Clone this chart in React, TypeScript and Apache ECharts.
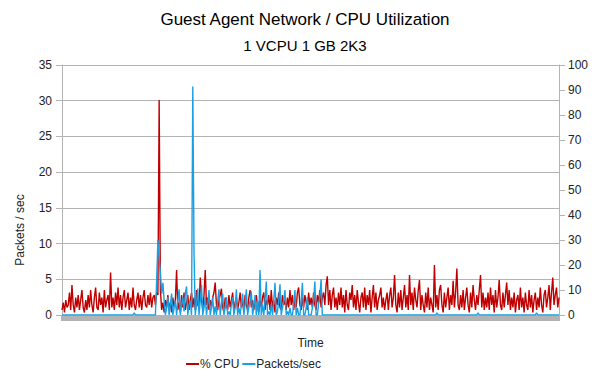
import React, { useEffect, useRef } from "react";
import * as echarts from "echarts";

const TITLE = "Guest Agent Network / CPU Utilization";
const SUBTITLE = "1 VCPU 1 GB 2K3";
const LEFT_NAME = "Packets / sec";
const X_NAME = "Time";
const SERIES_NAMES = ["% CPU", "Packets/sec"];

// % CPU (right axis, 0-100)
const cpu: number[] = [
  2, 5, 1, 6, 3, 4, 9, 2, 12, 4, 1, 7, 3, 8, 2, 6, 10, 3, 1, 6,
  2, 8, 3, 10, 4, 1, 7, 11, 3, 2, 9, 4, 7, 1, 10, 3, 6, 8, 2, 17,
  3, 7, 2, 9, 4, 11, 3, 8, 2, 7, 10, 3, 6, 9, 2, 7, 3, 11, 4, 2,
  6, 9, 3, 8, 2, 7, 10, 4, 3, 8, 4, 9, 3, 7, 8, 4, 9, 8, 86, 10,
  2, 5, 1, 6, 3, 8, 2, 5, 1, 7, 3, 6, 18, 2, 5, 1, 8, 3, 9, 2,
  5, 8, 2, 6, 9, 3, 7, 2, 10, 4, 3, 15, 6, 2, 8, 18, 4, 7, 2, 6,
  3, 7, 9, 13, 4, 2, 6, 8, 10.5, 3, 1, 7, 4, 2, 8, 3, 6, 9, 2, 5,
  7, 2, 5, 9, 3, 6, 1, 8, 4, 2, 7, 10, 3, 6, 2, 5, 8, 3, 1, 6,
  3, 7, 9, 2, 6, 4, 8, 2, 10, 3, 6, 1, 7, 4, 9, 3, 2, 8, 4, 6,
  2, 7, 3, 10, 4, 8, 2, 6, 3, 9, 11, 4, 2, 7, 3, 8, 5, 2, 9, 4,
  7, 3, 9, 4, 2, 8, 5, 10, 3, 7, 9, 4, 12, 15.5, 4, 10, 2, 8, 11, 3,
  7, 2, 9, 4, 11, 3, 8, 1, 10, 4, 2, 9, 6, 12, 3, 8, 2, 10, 5, 1,
  7, 9, 3, 11, 2, 8, 4, 10, 1, 7, 12, 3, 9, 2, 6, 8, 11, 3, 7, 2,
  6, 9, 2, 8, 11, 3, 7, 16, 4, 1, 9, 3, 10, 2, 7, 12, 3, 8, 2, 16,
  4, 9, 2, 11, 6, 3, 10, 14, 2, 8, 4, 1, 9, 3, 11, 2, 7, 4, 1, 20,
  3, 8, 2, 10, 12, 4, 1, 9, 3, 7, 11, 2, 8, 4, 13.7, 3, 9, 18.6, 4, 2,
  8, 3, 10, 2, 7, 11, 4, 1, 9, 3, 12, 6, 2, 8, 4, 10, 16, 3, 9, 2,
  7, 3, 9, 2, 11, 4, 8, 1, 10, 3, 7, 14, 4, 2, 9, 3, 8, 13, 4, 10,
  2, 7, 3, 9, 1, 6, 8, 2, 11, 3, 7, 1, 9, 4, 2, 10, 3, 8, 1, 6,
  9, 2, 7, 3, 11, 4, 1, 8, 10, 3, 7, 12, 2, 9, 15, 4, 8, 11, 3, 7,
];

// Packets/sec (left axis, 0-35)
const packets: number[] = [
  0, 0, 0, 0, 0, 0, 0, 0, 0, 0, 0, 0, 0, 0, 0, 0, 0, 0, 0, 0,
  0, 0, 0, 0, 0, 0, 0, 0, 0, 0, 0, 0, 0, 0, 0, 0, 0, 0, 0, 0,
  0, 0, 0, 0, 0, 0, 0, 0, 0, 0, 0, 0, 0, 0, 0, 0, 0, 0, 0.3, 0,
  0, 0, 0, 0, 0, 0, 0, 0, 0, 0, 0, 0, 0, 0, 0, 0, 5, 10.5, 8, 6,
  3, 4.5, 2, 0, 1, 2.5, 0, 1.5, 3, 0, 1, 2, 0, 2, 3.6, 0, 1.5, 2.5, 0.5, 3,
  4, 0, 1.5, 2, 0, 32, 8.5, 0, 1.5, 3.7, 0, 2, 4.2, 0, 1, 2.5, 0, 1.5, 3.5, 0,
  1, 2.5, 0, 1.2, 0, 2, 3.6, 0, 1.5, 3, 0, 1, 2.5, 0, 0.5, 0, 1.5, 2.5, 0, 1,
  3.6, 0, 1, 0, 1.5, 3, 0, 1.5, 3.6, 0, 1, 2, 3.3, 0, 1, 2.8, 0, 2, 0, 6.3,
  0, 1.5, 0, 2, 4.7, 0, 0.5, 0, 1.5, 0, 2, 4.5, 0, 0.5, 2, 4.3, 0, 1, 2, 3.5,
  0, 0.5, 0, 1, 0, 0, 1.5, 3.5, 0, 1, 0, 0, 2, 4.5, 0, 0, 1, 2.5, 0, 0,
  0, 1, 2, 4.7, 0, 0, 1.5, 2.5, 5, 0, 0, 0, 0, 0, 0, 0, 0, 0, 0, 0,
  0, 0, 0, 0, 0, 0, 0, 0, 0, 0, 0, 0, 0, 0, 0, 0, 0, 0, 0, 0,
  0, 0, 0, 0, 0, 0, 0, 0, 0, 0, 0, 0, 0, 0, 0, 0, 0, 0, 0, 0,
  0, 0, 0, 0, 0, 0, 0, 0, 0, 0, 0, 0, 0, 0, 0, 0, 0, 0, 0, 0,
  0, 0, 0, 0, 0, 0, 0, 0, 0, 0, 0, 0, 0, 0, 0, 0, 0, 0, 0, 0,
  0, 0.3, 0, 0, 0, 0, 0, 0, 0, 0, 0, 0, 0, 0, 0, 0, 0, 0, 0, 0,
  0, 0, 0, 0, 0, 0, 0, 0, 0, 0, 0, 0, 0, 0, 0.3, 0, 0, 0, 0, 0,
  0, 0, 0, 0, 0, 0, 0, 0, 0, 0, 0, 0, 0, 0, 0, 0, 0, 0, 0, 0,
  0, 0, 0, 0, 0, 0, 0, 0, 0, 0, 0, 0, 0, 0, 0, 0, 0, 0, 0, 0,
  0, 0.3, 0, 0, 0, 0, 0, 0, 0, 0, 0, 0, 0, 0, 0, 0, 0, 0, 0, 0,
];

const categories: string[] = cpu.map((_, i) => String(i + 1));

const RED = "#c00000";
const BLUE = "#1a9fe3";
const GRAY = "#b3b3b3";
const FONT = "Liberation Sans, Arial, sans-serif";

export default function App() {
  const ref = useRef<HTMLDivElement>(null);
  useEffect(() => {
    document.body.style.margin = "0";
    if (!ref.current) return;
    const chart = echarts.init(ref.current, null, { renderer: "svg" });
    chart.setOption({
      animation: false,
      textStyle: { fontFamily: FONT },
      title: {
        text: TITLE,
        subtext: SUBTITLE,
        left: "center",
        top: 6,
        itemGap: 10,
        textStyle: { fontFamily: FONT, fontSize: 17, fontWeight: "normal", color: "#000" },
        subtextStyle: { fontFamily: FONT, fontSize: 15, color: "#000" },
      },
      legend: {
        left: 181,
        top: 353,
        itemWidth: 13,
        itemHeight: 2,
        itemGap: 3,
        icon: "rect",
        textStyle: { fontFamily: FONT, fontSize: 12, color: "#222", padding: [0, 0, 0, -4] },
        data: SERIES_NAMES,
      },
      grid: { left: 62, right: 51, top: 65, bottom: 65, containLabel: false },
      xAxis: {
        type: "category",
        data: categories,
        boundaryGap: false,
        name: X_NAME,
        nameLocation: "middle",
        nameGap: 22,
        nameTextStyle: { fontFamily: FONT, fontSize: 12, color: "#222" },
        axisLine: { lineStyle: { color: GRAY } },
        axisTick: { show: true, interval: 0, length: 6, lineStyle: { color: GRAY, width: 2 } },
        axisLabel: { show: false },
        splitLine: { show: false },
      },
      yAxis: [
        {
          type: "value",
          min: 0,
          max: 35,
          interval: 5,
          position: "left",
          axisLine: { show: true, lineStyle: { color: GRAY } },
          axisTick: { show: true, length: 6, lineStyle: { color: GRAY } },
          axisLabel: { fontFamily: FONT, fontSize: 12, color: "#222", margin: 10 },
          splitLine: { show: true, lineStyle: { color: GRAY } },
        },
        {
          type: "value",
          min: 0,
          max: 100,
          interval: 10,
          position: "right",
          axisLine: { show: true, lineStyle: { color: GRAY } },
          axisTick: { show: true, length: 6, lineStyle: { color: GRAY } },
          axisLabel: { fontFamily: FONT, fontSize: 12, color: "#222", margin: 9 },
          splitLine: { show: false },
        },
      ],
      graphic: [
        {
          type: "text",
          x: 20,
          y: 230,
          rotation: Math.PI / 2,
          style: {
            text: LEFT_NAME,
            fontFamily: FONT,
            fontSize: 12,
            fill: "#222",
            textAlign: "center",
            textVerticalAlign: "middle",
          },
        },
      ],
      series: [
        {
          name: SERIES_NAMES[0],
          type: "line",
          yAxisIndex: 1,
          data: cpu,
          symbol: "none",
          lineStyle: { color: RED, width: 1.4 },
          itemStyle: { color: RED },
        },
        {
          name: SERIES_NAMES[1],
          type: "line",
          yAxisIndex: 0,
          data: packets,
          symbol: "none",
          lineStyle: { color: BLUE, width: 1.4 },
          itemStyle: { color: BLUE },
        },
      ],
    });
    return () => chart.dispose();
  }, []);
  return <div ref={ref} style={{ width: 610, height: 380 }} />;
}
